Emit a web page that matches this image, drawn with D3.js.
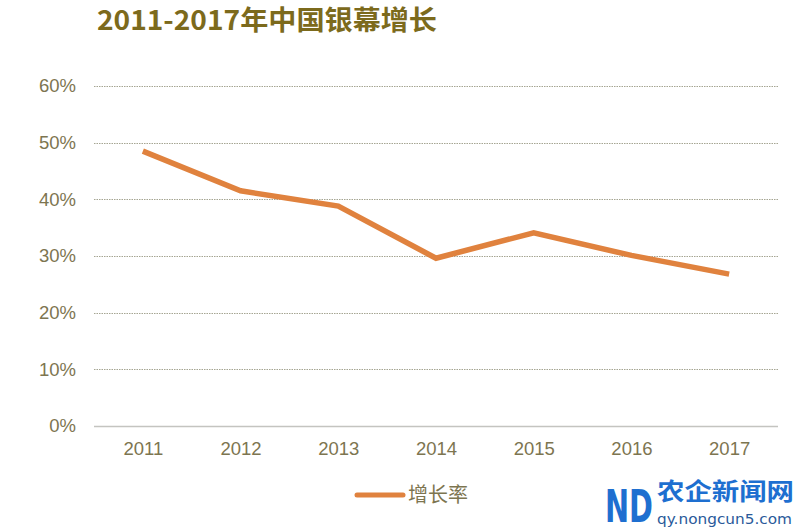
<!DOCTYPE html>
<html>
<head>
<meta charset="utf-8">
<script src="https://cdn.jsdelivr.net/npm/d3@7"></script>
<style>
  body { margin: 0; background: #fff; }
  svg { display: block; font-family: "Liberation Sans", Arial, sans-serif; }
</style>
</head>
<body>
<div id="chart"></div>
<script>
const years = ['2011', '2012', '2013', '2014', '2015', '2016', '2017'];
const growth = [0.485, 0.415, 0.388, 0.296, 0.341, 0.301, 0.268];
const yTicks = [0, 0.1, 0.2, 0.3, 0.4, 0.5, 0.6];
const seriesName = '增长率';
const title = '2011-2017年中国银幕增长';

const width = 800;
const height = 531;
const margin = { top: 86, right: 22, bottom: 105, left: 94 };

const svg = d3.select('#chart')
  .append('svg')
  .attr('width', width)
  .attr('height', height);

const x = d3.scalePoint()
  .domain(years)
  .range([margin.left, width - margin.right])
  .padding(0.5);

const y = d3.scaleLinear()
  .domain([0, 0.6])
  .range([height - margin.bottom, margin.top]);

const textColor = '#7d7550';

// title
svg.append('text')
  .attr('x', 97)
  .attr('y', 30)
  .attr('font-family', '"Noto Sans CJK SC", sans-serif')
  .attr('font-weight', 'bold')
  .attr('font-size', 27)
  .attr('fill', '#7c6a1c')
  .attr('textLength', 340)
  .attr('lengthAdjust', 'spacingAndGlyphs')
  .text(title);

// gridlines
svg.append('g')
  .selectAll('line')
  .data(yTicks)
  .enter().append('line')
  .attr('x1', margin.left)
  .attr('x2', width - margin.right)
  .attr('y1', d => Math.round(y(d)) + 0.5)
  .attr('y2', d => Math.round(y(d)) + 0.5)
  .attr('stroke', d => d === 0 ? '#c4c4c0' : '#a5a592')
  .attr('stroke-width', d => d === 0 ? 1.5 : 1)
  .attr('stroke-dasharray', d => d === 0 ? null : '1.5,1');

// y axis labels
const yAxis = d3.axisLeft(y)
  .tickValues(yTicks)
  .tickFormat(d3.format('.0%'))
  .tickSize(0)
  .tickPadding(18);

svg.append('g')
  .attr('transform', `translate(${margin.left},0)`)
  .call(yAxis)
  .call(g => g.select('.domain').remove())
  .selectAll('text')
  .attr('font-size', 18.5)
  .attr('fill', textColor);

// x axis labels
const xAxis = d3.axisBottom(x)
  .tickSize(0)
  .tickPadding(16);

svg.append('g')
  .attr('transform', `translate(0,${height - margin.bottom})`)
  .call(xAxis)
  .call(g => g.select('.domain').remove())
  .selectAll('text')
  .attr('font-size', 18.5)
  .attr('fill', textColor);

// line
const line = d3.line()
  .x((d, i) => x(years[i]))
  .y(d => y(d));

svg.append('path')
  .datum(growth)
  .attr('d', line)
  .attr('fill', 'none')
  .attr('stroke', '#e0823e')
  .attr('stroke-width', 5.5)
  .attr('stroke-linejoin', 'miter');

// legend
const legend = svg.append('g').attr('transform', 'translate(357,495)');
legend.append('line')
  .attr('x1', 0).attr('x2', 46)
  .attr('y1', 0).attr('y2', 0)
  .attr('stroke', '#e0823e')
  .attr('stroke-width', 5)
  .attr('stroke-linecap', 'round');
legend.append('text')
  .attr('x', 51)
  .attr('y', 7)
  .attr('font-family', '"Noto Sans CJK SC", sans-serif')
  .attr('font-size', 20)
  .attr('fill', textColor)
  .text(seriesName);

// watermark
const wm = svg.append('g');
wm.append('text')
  .attr('x', 605).attr('y', 522)
  .attr('font-family', '"DejaVu Sans", sans-serif')
  .attr('font-weight', 'bold')
  .attr('font-size', 44)
  .attr('fill', '#1e6fd0')
  .attr('textLength', 48)
  .attr('lengthAdjust', 'spacingAndGlyphs')
  .text('ND');
wm.append('text')
  .attr('x', 657).attr('y', 500)
  .attr('font-family', '"Noto Sans CJK SC", sans-serif')
  .attr('font-weight', 'bold')
  .attr('font-size', 24)
  .attr('fill', '#1e6fd0')
  .attr('textLength', 137)
  .attr('lengthAdjust', 'spacingAndGlyphs')
  .text('农企新闻网');
wm.append('text')
  .attr('x', 657).attr('y', 524)
  .attr('font-family', '"DejaVu Sans", sans-serif')
  .attr('font-size', 14)
  .attr('fill', '#2a5a9a')
  .attr('textLength', 135)
  .attr('lengthAdjust', 'spacingAndGlyphs')
  .text('qy.nongcun5.com');
</script>
</body>
</html>
